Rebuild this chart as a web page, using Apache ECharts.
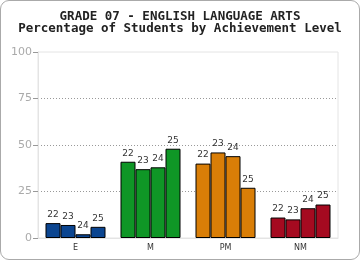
<!DOCTYPE html>
<html lang="en">
  <head>
    <meta charset="UTF-8" />
    <title>Grade 07 ELA</title>
    <script src="https://cdn.jsdelivr.net/npm/echarts@6/dist/echarts.min.js"></script>
    <style>
      body { margin: 0; }
      #chart {
        width: 358px; height: 258px;
        border: 1px solid #aaa; border-radius: 9px;
      }
    </style>
  </head>
  <body>
    <div id="chart"></div>
    <script>
      var levels = ['E', 'M', 'PM', 'NM'];
      var years = ['22', '23', '24', '25'];
      var levelColors = ['#0b4590', '#0f9626', '#d97e07', '#a50a20'];
      // percent per level, one array per year
      var y22 = [8, 41, 40, 11];
      var y23 = [7, 37, 46, 10];
      var y24 = [2, 38, 44, 16];
      var y25 = [6, 48, 27, 18];
      var yTicks = [0, 25, 50, 75, 100];

      var yearData = [y22, y23, y24, y25];
      var mCharts = echarts.init(document.getElementById('chart'));

      var series = years.map(function (yr, i) {
        return {
          name: yr,
          type: 'bar',
          barGap: 0,
          barCategoryGap: '20%',
          data: yearData[i].map(function (v, j) {
            return { value: v, itemStyle: { color: levelColors[j] } };
          }),
          itemStyle: { borderColor: '#000', borderWidth: 1 },
          label: {
            show: true,
            position: 'top',
            distance: 4,
            formatter: yr,
            fontSize: 9,
            color: '#333',
            fontFamily: 'DejaVu Sans'
          }
        };
      });

      var option = {
        animation: false,
        title: {
          text: 'GRADE 07 - ENGLISH LANGUAGE ARTS\nPercentage of Students by Achievement Level',
          left: 'center',
          top: 5,
          textStyle: {
            fontFamily: 'DejaVu Sans Mono',
            fontWeight: 'bold',
            fontSize: 12.5,
            lineHeight: 12,
            color: '#222'
          }
        },
        grid: {
          left: 37, right: 21, top: 51, bottom: 21,
          show: true, borderColor: '#e4e4e4', borderWidth: 1
        },
        xAxis: {
          type: 'category',
          data: levels,
          axisLine: { lineStyle: { color: '#e4e4e4' } },
          axisTick: { show: false },
          axisLabel: { fontSize: 8, color: '#333', margin: 6, fontFamily: 'DejaVu Sans' }
        },
        yAxis: {
          type: 'value',
          min: yTicks[0],
          max: yTicks[yTicks.length - 1],
          interval: 25,
          axisLine: { show: true, lineStyle: { color: '#e4e4e4' } },
          axisTick: { show: true, length: 5, lineStyle: { color: '#999' } },
          axisLabel: { fontSize: 11, color: '#aaa', margin: 6, fontFamily: 'DejaVu Sans' },
          splitLine: {
            showMinLine: false,
            showMaxLine: false,
            lineStyle: { type: [1, 2], color: '#999' }
          }
        },
        series: series
      };

      mCharts.setOption(option);
    </script>
  </body>
</html>
